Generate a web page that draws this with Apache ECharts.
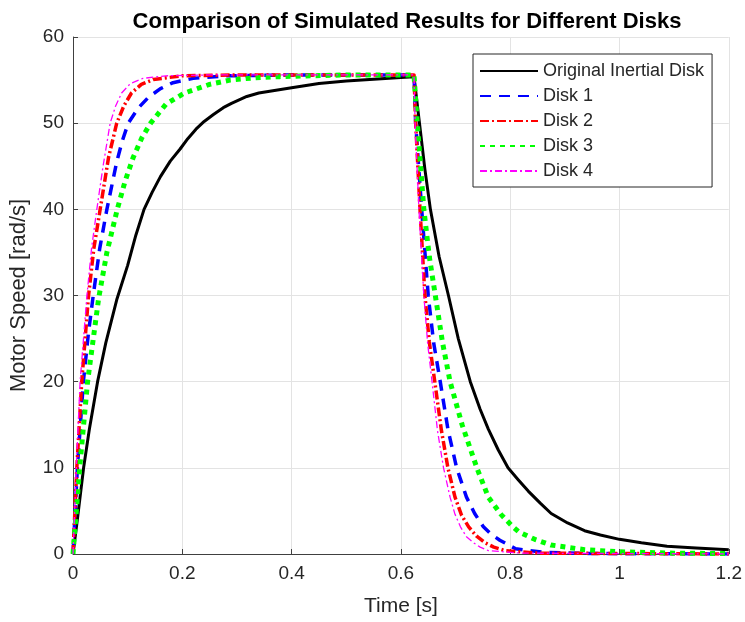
<!DOCTYPE html>
<html>
<head>
<meta charset="utf-8">
<script src="https://cdn.jsdelivr.net/npm/echarts@6/dist/echarts.min.js"></script>
<style>
html,body{margin:0;padding:0;background:#fff;}
#chart{width:745px;height:622px;}
</style>
</head>
<body>
<div id="chart"></div>
<script>
// ---- Data ----
var seriesNames = ['Original Inertial Disk', 'Disk 1', 'Disk 2', 'Disk 3', 'Disk 4'];
var xTicks = [0, 0.2, 0.4, 0.6, 0.8, 1, 1.2];
var yTicks = [0, 10, 20, 30, 40, 50, 60];

// Original Inertial Disk
var origT = [0, 0.007, 0.0194, 0.03, 0.045, 0.06, 0.08, 0.1, 0.115, 0.13, 0.145, 0.16, 0.178, 0.196, 0.21, 0.225, 0.24, 0.257, 0.275, 0.29, 0.318, 0.34, 0.36, 0.4, 0.45, 0.5, 0.55, 0.6, 0.624,
             0.634, 0.644, 0.654, 0.67, 0.687, 0.705, 0.727, 0.745, 0.76, 0.778, 0.796, 0.815, 0.833, 0.855, 0.875, 0.905, 0.936, 0.965, 1.0, 1.04, 1.087, 1.14, 1.2];
var origV = [0, 3.5, 10, 14.5, 20, 24.5, 29.5, 33.5, 37, 40, 42, 43.8, 45.6, 47, 48.2, 49.3, 50.2, 51, 51.8, 52.3, 53.1, 53.5, 53.7, 54.1, 54.6, 54.9, 55.1, 55.3, 55.4,
             50, 44.6, 40, 34.5, 30, 25, 20, 16.8, 14.5, 12.1, 10, 8.6, 7.3, 5.9, 4.7, 3.6, 2.7, 2.2, 1.7, 1.3, 0.9, 0.7, 0.5];

// Disk 1
var disk1T = [0, 0.008, 0.019, 0.028, 0.037, 0.049, 0.062, 0.08, 0.09, 0.101, 0.12, 0.138, 0.16, 0.183, 0.22, 0.28, 0.4, 0.624,
              0.627, 0.638, 0.65, 0.66, 0.672, 0.686, 0.702, 0.72, 0.735, 0.751, 0.765, 0.781, 0.81, 0.86, 0.95, 1.2];
var disk1V = [0, 10, 20, 25.5, 30, 35.5, 40, 45.5, 47.9, 50, 51.8, 53, 54, 54.7, 55.2, 55.5, 55.6, 55.6,
              50, 40, 30, 24.5, 20, 14.5, 10, 6.6, 4.7, 3.15, 2.3, 1.6, 0.6, 0.2, 0.05, 0];

// Disk 2
var disk2T = [0, 0.007, 0.016, 0.0285, 0.038, 0.0497, 0.065, 0.08, 0.093, 0.107, 0.125, 0.147, 0.2, 0.3, 0.624,
              0.627, 0.635, 0.644, 0.652, 0.662, 0.674, 0.686, 0.699, 0.711, 0.724, 0.738, 0.754, 0.77, 0.79, 0.85, 1.2];
var disk2V = [0, 10, 20, 30, 35.4, 40, 46, 50, 52, 53.5, 54.5, 55.07, 55.5, 55.6, 55.6,
              50, 40, 30, 24.6, 20, 14.4, 10, 6.6, 4.5, 3.15, 2.1, 1.3, 0.8, 0.4, 0.1, 0];

// Disk 3
var disk3T = [0, 0.0122, 0.0267, 0.047, 0.062, 0.081, 0.095, 0.11, 0.126, 0.142, 0.17, 0.204, 0.25, 0.287, 0.33, 0.378, 0.5, 0.624,
              0.63, 0.642, 0.652, 0.663, 0.676, 0.69, 0.712, 0.739, 0.76, 0.783, 0.805, 0.815, 0.845, 0.875, 0.936, 1.0, 1.1, 1.2];
var disk3V = [0, 10, 20, 29.7, 35, 40, 43.2, 46, 48.3, 50, 52.2, 53.5, 54.5, 55, 55.25, 55.4, 55.6, 55.6,
              50, 40, 34.5, 30, 24.6, 20, 15, 10, 6.6, 4.6, 3.15, 2.6, 1.7, 1.04, 0.5, 0.25, 0.1, 0.05];

// Disk 4
var disk4T = [0, 0.006, 0.013, 0.0255, 0.034, 0.0436, 0.055, 0.068, 0.078, 0.089, 0.105, 0.128, 0.17, 0.25, 0.624,
              0.626, 0.633, 0.642, 0.649, 0.657, 0.667, 0.678, 0.69, 0.699, 0.709, 0.72, 0.733, 0.745, 0.76, 0.82, 1.2];
var disk4V = [0, 10, 20, 30, 35.5, 40, 45, 50, 52, 53.5, 54.6, 55.2, 55.5, 55.6, 55.6,
              50, 40, 30, 24.4, 20, 14.3, 10, 6.6, 4.6, 3.15, 2.0, 1.3, 0.8, 0.4, 0.1, 0];

function pairs(t, v) { return t.map(function (x, i) { return [x, v[i]]; }); }

var txt = '#262626';
var FONT = 'Liberation Sans, Arial, sans-serif';
var chart = echarts.init(document.getElementById('chart'), null, {renderer: 'canvas'});

function mkSeries(name, t, v, color, width, dash) {
  return {
    name: name, type: 'line', data: pairs(t, v),
    showSymbol: false, symbol: 'none', smooth: false,
    lineStyle: {color: color, width: width, type: dash, cap: 'butt', join: 'round'},
    itemStyle: {color: color},
    animation: false
  };
}

chart.setOption({
  animation: false,
  backgroundColor: '#fff',
  textStyle: {fontFamily: FONT},
  title: {
    text: 'Comparison of Simulated Results for Different Disks',
    left: 402, top: 6, textAlign: 'center',
    textStyle: {fontSize: 22, fontWeight: 'bold', color: '#000', fontFamily: FONT}
  },
  grid: {left: 72, right: 13, top: 37, bottom: 65, containLabel: false},
  legend: {
    orient: 'vertical', left: 473, top: 54,
    data: seriesNames,
    itemWidth: 58, itemHeight: 14, itemGap: 5,
    padding: [7, 8, 6, 6],
    backgroundColor: '#fff', borderColor: '#262626', borderWidth: 1,
    itemStyle: {opacity: 0},
    textStyle: {fontSize: 18, lineHeight: 20, color: txt, fontFamily: FONT}
  },
  xAxis: {
    type: 'value', min: 0, max: 1.2, interval: 0.2,
    name: 'Time [s]', nameLocation: 'middle', nameGap: 42,
    nameTextStyle: {fontSize: 21, color: txt, fontFamily: FONT},
    axisLine: {show: true, onZero: false, lineStyle: {color: '#404040', width: 1}},
    axisTick: {show: true, inside: true, length: 5, lineStyle: {color: '#404040'}},
    axisLabel: {fontSize: 19, color: txt, margin: 10, fontFamily: FONT,
      formatter: function (v) { return String(Math.round(v * 10) / 10); }},
    splitLine: {show: true, lineStyle: {color: '#e3e3e3', width: 1}}
  },
  yAxis: {
    type: 'value', min: 0, max: 60, interval: 10,
    name: 'Motor Speed [rad/s]', nameLocation: 'middle', nameGap: 43,
    nameTextStyle: {fontSize: 22, color: txt, fontFamily: FONT},
    axisLine: {show: true, onZero: false, lineStyle: {color: '#404040', width: 1}},
    axisTick: {show: true, inside: true, length: 5, lineStyle: {color: '#404040'}},
    axisLabel: {fontSize: 19, color: txt, margin: 9, fontFamily: FONT},
    splitLine: {show: true, lineStyle: {color: '#e3e3e3', width: 1}}
  },
  series: [
    mkSeries(seriesNames[0], origT, origV, '#000000', 3, 'solid'),
    mkSeries(seriesNames[1], disk1T, disk1V, '#0000ff', 3.5, [11, 8]),
    mkSeries(seriesNames[2], disk2T, disk2V, '#ff0000', 3.5, [9, 3, 2, 3]),
    mkSeries(seriesNames[3], disk3T, disk3V, '#00ff00', 5, [5, 5]),
    mkSeries(seriesNames[4], disk4T, disk4V, '#ff00ff', 1.3, [7, 3, 2, 3])
  ]
});
</script>
</body>
</html>
